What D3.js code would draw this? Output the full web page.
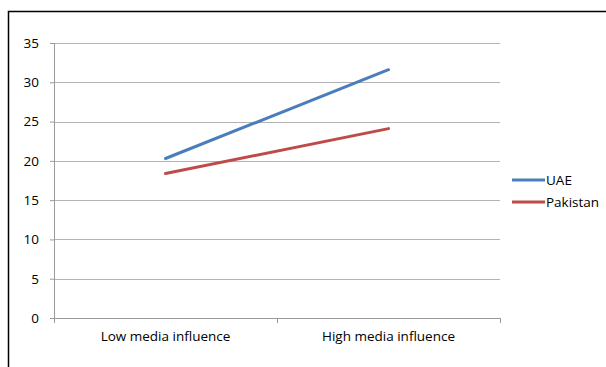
<!DOCTYPE html>
<html>
<head>
<meta charset="utf-8">
<script src="https://cdn.jsdelivr.net/npm/d3@7"></script>
<style>
  body { margin: 0; background: #fff; }
  text { font-family: "Open Sans", sans-serif; }
</style>
</head>
<body>
<script>
// Données du graphique
const categories = ["Low media influence", "High media influence"];
const seriesNames = ["UAE", "Pakistan"];
const uaeValues = [20.3, 31.6];
const pakistanValues = [18.4, 24.1];
const yTicks = [0, 5, 10, 15, 20, 25, 30, 35];
const colors = ["#4a7ebb", "#be4b48"];

const W = 606, H = 367;
const margin = { top: 43, left: 54, right: 106, bottom: 49 };
const width = W - margin.left - margin.right,
      height = H - margin.top - margin.bottom;
const fontSize = "13.5px";

const svg = d3.select("body").append("svg")
    .attr("width", W)
    .attr("height", H);

// Cadre extérieur (coupé à droite et en bas)
svg.append("path")
    .attr("d", `M8.5,${H + 2}V11.5H${W + 2}`)
    .attr("fill", "none")
    .attr("stroke", "#000")
    .attr("stroke-width", 1.5);

const g = svg.append("g")
    .attr("transform", `translate(${margin.left},${margin.top})`);

const x = d3.scaleBand()
    .domain(categories)
    .range([0, width]);

const y = d3.scaleLinear()
    .domain([0, 35])
    .range([height, 0]);

// Grille horizontale
g.selectAll(".grid")
    .data(yTicks.filter(d => d > 0))
    .enter().append("line")
    .attr("x1", 0)
    .attr("x2", width)
    .attr("y1", d => Math.round(y(d)) + 0.5)
    .attr("y2", d => Math.round(y(d)) + 0.5)
    .attr("stroke", "#b3b3b3")
    .attr("stroke-width", 1);

// Axe Y
const yAxis = g.append("g")
    .call(d3.axisLeft(y).tickValues(yTicks).tickSize(4).tickPadding(11));
yAxis.select(".domain").attr("stroke", "#9a9a9a").attr("d", `M0.5,${height}V0`);
yAxis.selectAll(".tick line").attr("stroke", "#9a9a9a");
yAxis.selectAll("text").attr("font-size", fontSize).attr("fill", "#000");

// Axe X
const xAxis = g.append("g")
    .attr("transform", `translate(0,${height})`)
    .call(d3.axisBottom(x).tickSize(0).tickPadding(13));
xAxis.select(".domain").attr("stroke", "#9a9a9a").attr("d", `M0,0.5H${width}`);
xAxis.selectAll("text").attr("font-size", fontSize).attr("fill", "#000");

// Graduations entre catégories
g.selectAll(".xtick")
    .data([0, ...categories.map(c => x(c) + x.bandwidth())])
    .enter().append("line")
    .attr("x1", d => Math.round(d) + 0.5)
    .attr("x2", d => Math.round(d) + 0.5)
    .attr("y1", height)
    .attr("y2", height + 5)
    .attr("stroke", "#9a9a9a");

// Lignes des séries
const series = [uaeValues, pakistanValues];
const line = d3.line()
    .x((d, i) => x(categories[i]) + x.bandwidth() / 2)
    .y(d => y(d));

series.forEach((vals, i) => {
    g.append("path")
        .datum(vals)
        .attr("fill", "none")
        .attr("stroke", colors[i])
        .attr("stroke-width", 3)
        .attr("stroke-linecap", "round")
        .attr("d", line);
});

// Légende
const legend = svg.append("g")
    .attr("transform", "translate(512,180)");
seriesNames.forEach((name, i) => {
    const row = legend.append("g").attr("transform", `translate(0,${i * 22})`);
    row.append("line")
        .attr("x1", 0).attr("x2", 33)
        .attr("stroke", colors[i])
        .attr("stroke-width", 3);
    row.append("text")
        .attr("x", 34)
        .attr("y", 5)
        .attr("font-size", fontSize)
        .text(name);
});
</script>
</body>
</html>
